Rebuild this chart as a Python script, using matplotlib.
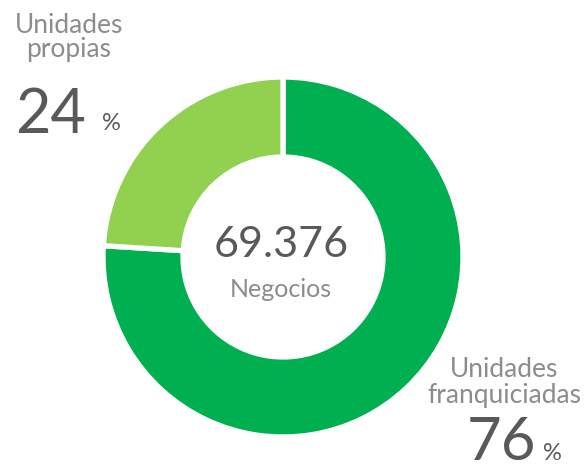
import matplotlib
matplotlib.use("Agg")
import matplotlib.pyplot as plt

categories = ["Unidades franquiciadas", "Unidades propias"]
values = [76, 24]
colors = ["#00B050", "#92D050"]
total_label = "69.376"
total_caption = "Negocios"

W, H = 585, 471
fig = plt.figure(figsize=(W / 100, H / 100), dpi=100)
ax = fig.add_axes([0, 0, 1, 1])
ax.set_xlim(0, W)
ax.set_ylim(0, H)
ax.set_aspect("equal")
ax.axis("off")

cx, cy, R = 283, H - 257, 180
ax.pie(values, colors=colors, startangle=90, counterclock=False,
       center=(cx, cy), radius=R, frame=True,
       wedgeprops=dict(width=80, edgecolor="white", linewidth=3.8))
ax.set_xlim(0, W)
ax.set_ylim(0, H)
ax.axis("off")

dark = "#595959"
light = "#8C8C8C"
fam = ["Lato", "DejaVu Sans"]

# center text
ax.text(cx - 2, H - 257, total_label, ha="center", va="baseline",
        fontsize=31, color=dark, family=fam)
ax.text(cx - 2, H - 297, total_caption, ha="center", va="baseline",
        fontsize=18, color=light, family=fam)

# top-left label
ax.text(69, H - 33, "Unidades", ha="center", va="baseline",
        fontsize=19, color=light, family=fam)
ax.text(69, H - 57, "propias", ha="center", va="baseline",
        fontsize=19, color=light, family=fam)
ax.text(15, H - 133, f"{values[1]}", ha="left", va="baseline",
        fontsize=44, color=dark, family=fam)
ax.text(102, H - 130, "%", ha="left", va="baseline",
        fontsize=17, color=dark, family=fam)

# bottom-right label
ax.text(504, H - 377, "Unidades", ha="center", va="baseline",
        fontsize=19, color=light, family=fam)
ax.text(504, H - 403, "franquiciadas", ha="center", va="baseline",
        fontsize=19, color=light, family=fam)
ax.text(467, H - 460, f"{values[0]}", ha="left", va="baseline",
        fontsize=43, color=dark, family=fam)
ax.text(543, H - 460, "%", ha="left", va="baseline",
        fontsize=17, color=dark, family=fam)

fig.savefig("out.png", dpi=100)
